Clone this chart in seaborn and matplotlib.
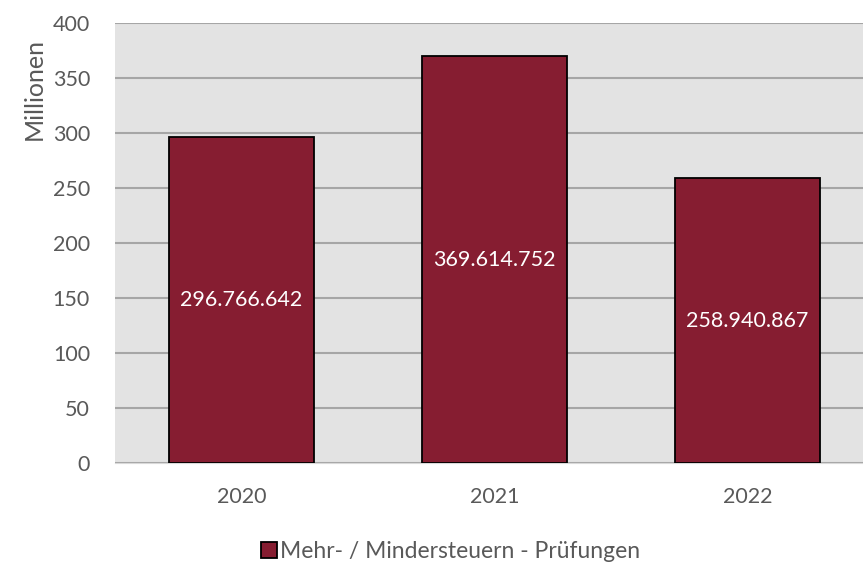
import matplotlib.pyplot as plt
import pandas as pd
import seaborn as sns
from matplotlib.patches import Patch

# Data
years = ['2020', '2021', '2022']
values = [296766642, 369614752, 258940867]
series_name = 'Mehr- / Mindersteuern - Prüfungen'

df = pd.DataFrame({'year': years, 'value': [v / 1e6 for v in values]})

sns.set_style('white')
plt.rcParams['font.family'] = ['Lato', 'DejaVu Sans']

bar_color = '#861D31'
text_color = '#595959'

fig = plt.figure(figsize=(8.63, 5.67), dpi=100)
ax = fig.add_axes([115 / 863, 104 / 567, 1 - 115 / 863, 440 / 567])
ax.set_facecolor('#E3E3E3')

sns.barplot(data=df, x='year', y='value', color=bar_color, width=0.577,
            edgecolor='black', linewidth=1.3, saturation=1, ax=ax, zorder=3)

# Value labels in the middle of each bar
for i, v in enumerate(values):
  label = f'{v:,}'.replace(',', '.')
  ax.text(i, v / 1e6 / 2, label, ha='center', va='center',
          color='white', fontsize=15.5, zorder=4)

ax.set_ylim(0, 400)
ax.set_xlim(-0.5, 2.5 - 11 / 253)
ax.set_yticks(range(0, 401, 50))
ax.yaxis.grid(True, color='#A6A6A6', linewidth=1.5, zorder=0)
ax.set_axisbelow(True)
for s in ['top', 'right', 'left']:
  ax.spines[s].set_visible(False)
ax.spines['bottom'].set_color('#D9D9D9')
ax.tick_params(axis='both', length=0, labelsize=15.5, colors=text_color)
ax.tick_params(axis='y', pad=18)
ax.tick_params(axis='x', pad=17)
ax.set_xlabel('')
ax.set_ylabel('Millionen', fontsize=18, color=text_color)
ax.yaxis.set_label_coords(-69 / 748, 0.85)

handle = Patch(facecolor=bar_color, edgecolor='black', linewidth=1.3)
fig.legend([handle], [series_name], loc='center', bbox_to_anchor=(0.522, 0.028),
           frameon=False, fontsize=16.5, handlelength=0.7, handleheight=0.7,
           handletextpad=0.15, labelcolor=text_color)

fig.savefig('out.png', dpi=100)
